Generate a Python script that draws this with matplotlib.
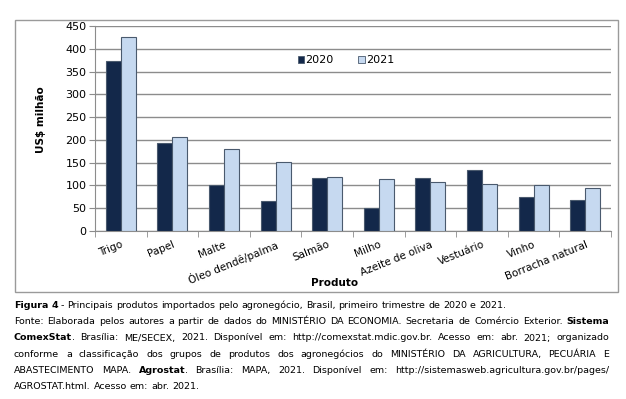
import numpy as np
import matplotlib
matplotlib.use('Agg')
import matplotlib.pyplot as plt
from matplotlib.patches import Patch, Rectangle

produtos = ['Trigo', 'Papel', 'Malte', 'Óleo dendê/palma', 'Salmão', 'Milho',
            'Azeite de oliva', 'Vestuário', 'Vinho', 'Borracha natural']
v2020 = [373, 193, 100, 65, 117, 51, 116, 134, 75, 68]
v2021 = [425, 206, 180, 152, 118, 115, 107, 104, 100, 94]
yticks = [0, 50, 100, 150, 200, 250, 300, 350, 400, 450]

legenda = '2020', '2021'
legenda_x = 'Produto'
legenda_y = 'US$ milhão'

caption = [
    ('**Figura 4** - Principais produtos importados pelo agronegócio, Brasil, primeiro trimestre de 2020 e 2021.', False),
    ('Fonte: Elaborada pelos autores a partir de dados do MINISTÉRIO DA ECONOMIA. Secretaria de Comércio Exterior. **Sistema**', True),
    ('**ComexStat**. Brasília: ME/SECEX, 2021. Disponível em: http://comexstat.mdic.gov.br. Acesso em: abr. 2021; organizado', True),
    ('conforme a classificação dos grupos de produtos dos agronegócios do MINISTÉRIO DA AGRICULTURA, PECUÁRIA E', True),
    ('ABASTECIMENTO MAPA. **Agrostat**. Brasília: MAPA, 2021. Disponível em: http://sistemasweb.agricultura.gov.br/pages/', True),
    ('AGROSTAT.html. Acesso em: abr. 2021.', False),
]

W, H = 626, 399
cor20 = '#13284a'
cor21 = '#c6d9f0'
borda = '#4a5a6e'
grade = '#8c8c8c'

plt.rcParams['font.family'] = 'DejaVu Sans'
fig = plt.figure(figsize=(W / 100, H / 100), dpi=100)

# moldura do gráfico
fig.patches.append(Rectangle((15 / W, 1 - 292 / H), (618 - 15) / W, (292 - 19.5) / H,
                             transform=fig.transFigure, fill=False,
                             edgecolor='#9a9a9a', linewidth=1))

ax = fig.add_axes([95 / W, 1 - 231 / H, (611 - 95) / W, (231 - 26) / H])
x = np.arange(len(produtos))
w = 0.29
ax.bar(x - w / 2, v2020, w, color=cor20, edgecolor=borda, linewidth=0.8, zorder=3)
ax.bar(x + w / 2, v2021, w, color=cor21, edgecolor=borda, linewidth=0.8, zorder=3)

ax.set_xlim(-0.5, len(produtos) - 0.5)
ax.set_ylim(0, 450)
ax.set_yticks(yticks)
ax.yaxis.grid(True, color=grade, linewidth=1, zorder=0)
ax.set_axisbelow(True)
for s in ['top', 'right']:
    ax.spines[s].set_visible(False)
for s in ['left', 'bottom']:
    ax.spines[s].set_color(grade)
ax.tick_params(axis='y', labelsize=8, length=4, color=grade, pad=2)
ax.set_xticks(x)
ax.set_xticklabels(produtos, rotation=22, ha='right', rotation_mode='anchor', fontsize=7.5)
ax.tick_params(axis='x', which='major', length=0, pad=6)
ax.set_xticks(np.arange(-0.5, len(produtos)), minor=True)
ax.tick_params(axis='x', which='minor', length=4, color=grade)

fig.text(335 / W, 1 - 283 / H, legenda_x, ha='center', va='center', fontsize=7.5, fontweight='bold')
fig.text(41 / W, 1 - 120 / H, legenda_y, ha='center', va='center', rotation=90,
         fontsize=7.5, fontweight='bold')

handles = [Patch(facecolor=cor20, edgecolor=borda, linewidth=0.6),
           Patch(facecolor=cor21, edgecolor=borda, linewidth=0.6)]
fig.legend(handles, legenda, loc='center left', bbox_to_anchor=(292 / W, 1 - 60 / H),
           ncol=2, frameon=False, fontsize=8, handlelength=0.6, handleheight=0.6,
           handletextpad=0.1, columnspacing=2.2, borderpad=0)

# legenda da figura, justificada
FS = 6.8
renderer = fig.canvas.get_renderer()


def medir(s, bold):
    t = fig.text(0, 0, s, fontsize=FS, fontweight='bold' if bold else 'normal')
    bb = t.get_window_extent(renderer)
    t.remove()
    return bb.width


def palavras_da_linha(linha):
    # separa em palavras, cada uma uma lista de (texto, negrito)
    palavras = [[]]
    for i, parte in enumerate(linha.split('**')):
        bold = i % 2 == 1
        pedacos = parte.split(' ')
        for j, p in enumerate(pedacos):
            if j > 0:
                palavras.append([])
            if p:
                palavras[-1].append((p, bold))
    return [p for p in palavras if p]


espaco = medir('a a', False) - medir('aa', False)
x0, x1 = 14, 609
base = [308, 324, 340.5, 357, 373, 389]
for (linha, just), yb in zip(caption, base):
    palavras = palavras_da_linha(linha)
    larg = [sum(medir(s, b) for s, b in p) for p in palavras]
    if just and len(palavras) > 1:
        gap = (x1 - x0 - sum(larg)) / (len(palavras) - 1)
    else:
        gap = espaco
    xp = x0
    for p, lw in zip(palavras, larg):
        xs = xp
        for s, b in p:
            fig.text(xs / W, 1 - yb / H, s, fontsize=FS, va='baseline', ha='left',
                     fontweight='bold' if b else 'normal')
            xs += medir(s, b)
        xp += lw + gap

fig.savefig('out.png', dpi=100)
